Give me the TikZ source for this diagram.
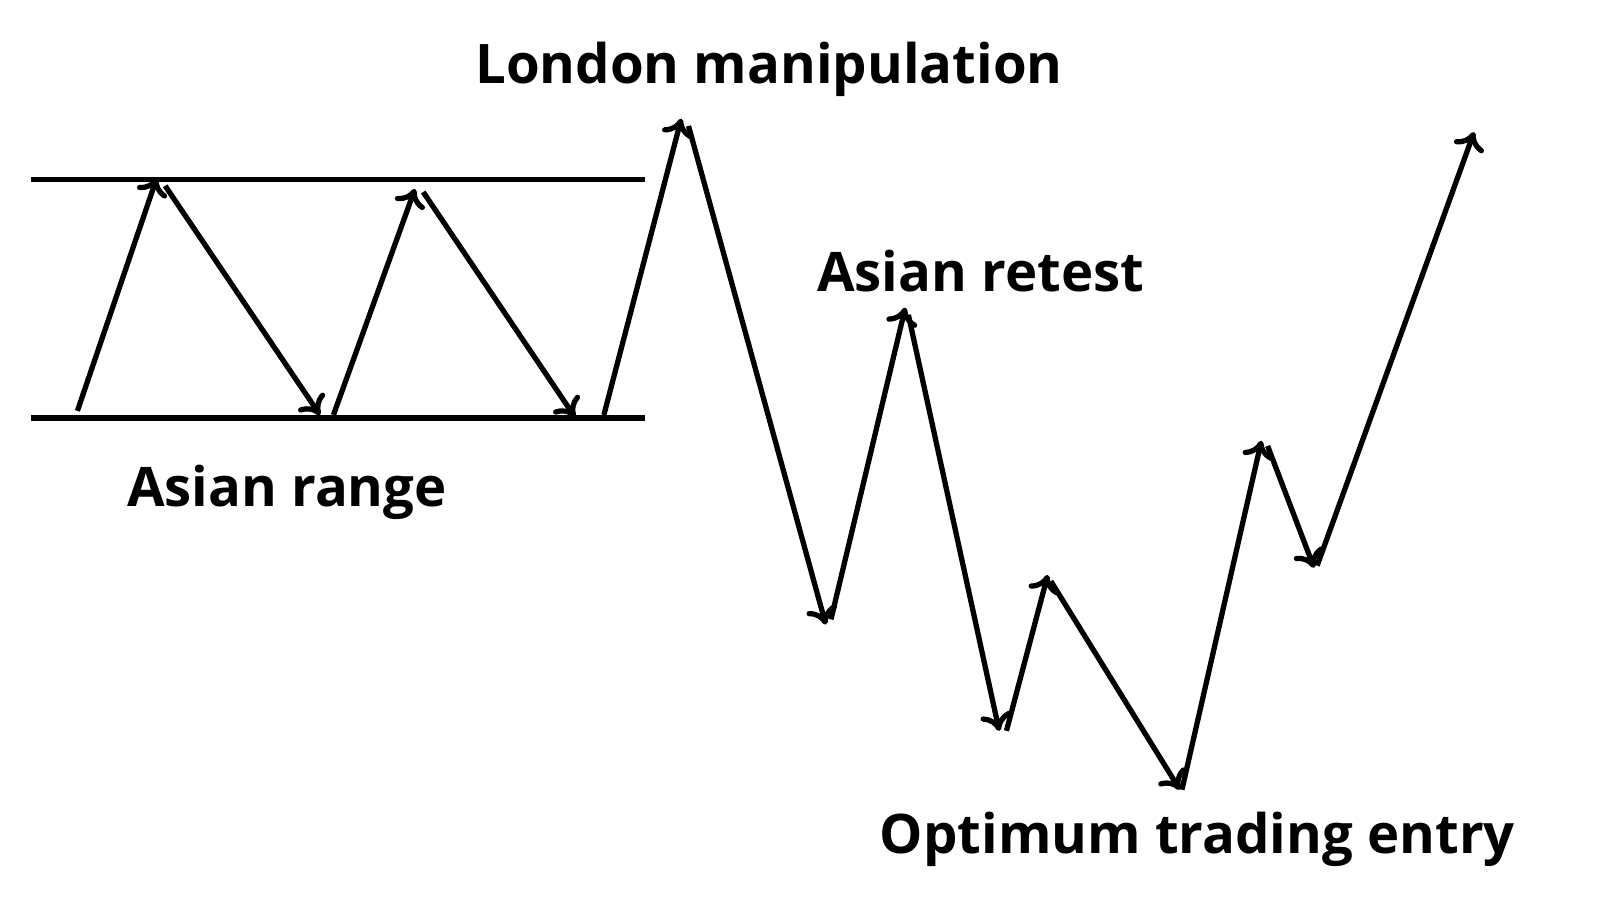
\documentclass[tikz,border=0pt]{standalone}
\usepackage{fontspec}
\setmainfont{Open Sans}
\usetikzlibrary{arrows.meta}
\begin{document}
\begin{tikzpicture}[x=0.01032cm,y=-0.01032cm]
\useasboundingbox (0,0) rectangle (1550,872);
\tikzset{move/.style={line width=1.5pt,-{To[length=5pt,width=9pt]}},
  lbl/.style={font=\fontsize{15.5}{18}\selectfont\bfseries}}
% range lines
\draw [line width=1.5pt] (30,174) -- (625,174);
\draw [line width=1.5pt] (30,405) -- (625,405);
% price legs
\foreach \a/\b/\c/\d in {75/398/152/172, 160/180/310/402, 323/402/402/183,
  410/186/557/404, 585/402/660/115, 667/122/800/605, 805/600/877/298,
  880/305/968/708, 975/708/1015/557, 1018/563/1143/765, 1145/765/1222/427,
  1228/432/1273/550, 1276/548/1428/128}
{
  \draw [move] (\a,\b) -- (\c,\d);
}
\node [lbl] (london) at (745,67) {London manipulation};
\node [lbl] (retest) at (950,263) {Asian retest};
\node [lbl] (range) at (278,477) {Asian range};
\node [lbl] (entry) at (1160,813) {Optimum trading entry};
\end{tikzpicture}
\end{document}
